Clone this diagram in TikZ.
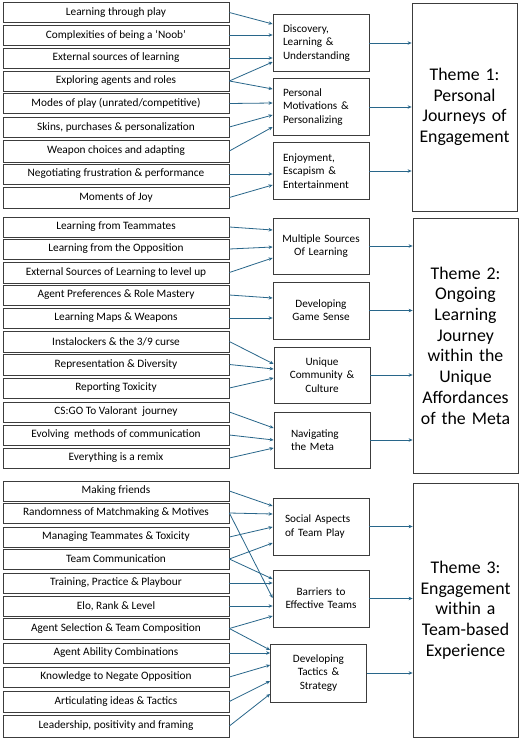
\documentclass[tikz,border=0pt]{standalone}
\usepackage{fontspec}
\setmainfont{Carlito}
\usetikzlibrary{arrows.meta,calc}
\definecolor{conn}{RGB}{40,102,138}
\definecolor{edge}{RGB}{60,60,60}
\tikzset{
  lbox/.style={draw=edge, line width=0.7pt, minimum width=226pt, minimum height=20pt, inner sep=0pt, font=\fontsize{11.3}{12}\selectfont},
  mboxc/.style={draw=edge, line width=0.8pt, minimum width=96pt, minimum height=57pt, inner xsep=4pt, text width=88pt, align=center, font=\fontsize{11.2}{13.2}\selectfont},
  mboxl/.style={draw=edge, line width=0.8pt, minimum width=96pt, minimum height=57pt, inner xsep=10pt, text width=76pt, align=left, font=\fontsize{11.2}{13.2}\selectfont},
  theme/.style={draw=edge, line width=0.8pt, minimum width=105pt, text width=99pt, inner xsep=3pt, align=center, font=\fontsize{17.8}{20.7}\selectfont},
  arr/.style={draw=conn, line width=0.8pt, -{Stealth[length=4pt,width=3.5pt]}}
}
\begin{document}
\begin{tikzpicture}[x=1pt,y=-1pt]
\useasboundingbox[fill=white] (0,0) rectangle (520,741);
% ---------- Section 1 ----------
\node[lbox] (a1) at (116,12.5) {Learning through play};
\node[lbox] (a2) at (116,35) {Complexities of being a ‘Noob’};
\node[lbox] (a3) at (116,58) {External sources of learning};
\node[lbox] (a4) at (116,81) {Exploring agents and roles};
\node[lbox] (a5) at (116,103.5) {Modes of play (unrated/competitive)};
\node[lbox] (a6) at (116,127) {Skins, purchases \& personalization};
\node[lbox, minimum height=22pt] (a7) at (116,151) {Weapon choices and adapting};
\node[lbox] (a8) at (116,174) {Negotiating frustration \& performance};
\node[lbox, minimum height=21pt] (a9) at (116,197.5) {Moments of Joy};

\node[mboxl] (m1) at (321,43) {Discovery,\\Learning \&\\Understanding};
\node[mboxl] (m2) at (321,107) {Personal\\Motivations \&\\Personalizing};
\node[mboxl] (m3) at (321,171) {Enjoyment,\\Escapism \&\\Entertainment};

\node[theme, minimum height=208pt] (t1) at (464.5,107) {Theme 1:\\Personal\\Journeys of\\Engagement};

\draw[arr] (a1.east) -- ($(m1.west)+(0,-19)$);
\draw[arr] (a2.east) -- ($(m1.west)+(0,-8)$);
\draw[arr] (a3.east) -- ($(m1.west)+(0,15)$);
\draw[arr] (a4.east) -- ($(m1.west)+(0,19)$);
\draw[arr] (a4.east) -- ($(m2.west)+(0,-18)$);
\draw[arr] (a5.east) -- ($(m2.west)+(0,-4)$);
\draw[arr] (a6.east) -- ($(m2.west)+(0,8)$);
\draw[arr] (a7.east) -- ($(m2.west)+(0,20)$);
\draw[arr] (a8.east) -- ($(m3.west)+(0,3)$);
\draw[arr] (a9.east) -- ($(m3.west)+(0,14)$);

\draw[arr] (m1.east) -- (m1.east -| t1.west);
\draw[arr] (m2.east) -- (m2.east -| t1.west);
\draw[arr] (m3.east) -- (m3.east -| t1.west);

% ---------- Section 2 ----------
\node[lbox] (b1) at (116,227) {Learning from Teammates};
\node[lbox] (b2) at (116,249) {Learning from the Opposition};
\node[lbox, minimum height=21pt] (b3) at (116,272.5) {External Sources of Learning to level up};
\node[lbox] (b4) at (116,295) {Agent Preferences \& Role Mastery};
\node[lbox] (b5) at (116,318) {Learning Maps \& Weapons};
\node[lbox, minimum height=21pt] (b6) at (116,341.5) {Instalockers \& the 3/9 curse};
\node[lbox, minimum height=21pt] (b7) at (116,364.5) {Representation \& Diversity};
\node[lbox] (b8) at (116,388) {Reporting Toxicity};
\node[lbox] (b9) at (116,412) {CS:GO To Valorant\ \ journey};
\node[lbox] (b10) at (116,435) {Evolving\ \ methods of communication};
\node[lbox] (b11) at (116,458) {Everything is a remix};

\node[mboxc, minimum height=56pt] (n1) at (321,246) {Multiple Sources\\Of Learning};
\node[mboxc] (n2) at (321,310.5) {Developing\\Game Sense};
\node[mboxc, minimum height=56pt] (n3) at (322,375) {Unique\\Community \&\\Culture};
\node[mboxl, minimum height=56pt, inner xsep=17pt, text width=62pt] (n4) at (322,440) {Navigating\\the Meta};

\node[theme, minimum height=255pt] (t2) at (465.5,345.5) {Theme 2:\\Ongoing\\Learning\\Journey\\within the\\Unique\\Affordances\\of the Meta};

\draw[arr] (b1.east) -- ($(n1.west)+(0,-16)$);
\draw[arr] (b2.east) -- ($(n1.west)+(0,1)$);
\draw[arr] (b3.east) -- ($(n1.west)+(0,12)$);
\draw[arr] (b4.east) -- ($(n2.west)+(0,-12.5)$);
\draw[arr] (b5.east) -- ($(n2.west)+(0,7.5)$);
\draw[arr] (b6.east) -- ($(n3.west)+(0,-11)$);
\draw[arr] (b7.east) -- ($(n3.west)+(0,-6)$);
\draw[arr] (b8.east) -- ($(n3.west)+(0,3)$);
\draw[arr] (b9.east) -- ($(n4.west)+(0,-12)$);
\draw[arr] (b10.east) -- ($(n4.west)+(0,0)$);
\draw[arr] (b11.east) -- ($(n4.west)+(0,8)$);

\draw[arr] (n1.east) -- (n1.east -| t2.west);
\draw[arr] (n2.east) -- (n2.east -| t2.west);
\draw[arr] (n3.east) -- (n3.east -| t2.west);
\draw[arr] (n4.east) -- (n4.east -| t2.west);

% ---------- Section 3 ----------
\node[lbox] (c1) at (116,491) {Making friends};
\node[lbox] (c2) at (116,513) {Randomness of Matchmaking \& Motives};
\node[lbox] (c3) at (116,537) {Managing Teammates \& Toxicity};
\node[lbox] (c4) at (116,559) {Team Communication};
\node[lbox] (c5) at (116,583) {Training, Practice \& Playbour};
\node[lbox] (c6) at (116,606) {Elo, Rank \& Level};
\node[lbox, minimum height=21pt] (c7) at (116,628.5) {Agent Selection \& Team Composition};
\node[lbox] (c8) at (116,653) {Agent Ability Combinations};
\node[lbox] (c9) at (116,677) {Knowledge to Negate Opposition};
\node[lbox, minimum height=21pt] (c10) at (116,701.5) {Articulating ideas \& Tactics};
\node[lbox, minimum height=22pt] (c11) at (116,726) {Leadership, positivity and framing};

\node[mboxl, inner xsep=12pt, text width=72pt] (p1) at (321,526.5) {Social Aspects\\of Team Play};
\node[mboxc] (p2) at (321,598.5) {Barriers to\\Effective Teams};
\node[mboxc, minimum height=58pt] (p3) at (318.5,673) {Developing\\Tactics \&\\Strategy};

\node[theme, minimum height=254pt] (t3) at (465.5,610) {Theme 3:\\Engagement\\within a\\Team-based\\Experience};

\draw[arr] (c1.east) -- ($(p1.west)+(0,-20.5)$);
\draw[arr] (c2.east) -- ($(p1.west)+(0,-12.5)$);
\draw[arr] (c3.east) -- ($(p1.west)+(0,0.5)$);
\draw[arr] (c4.east) -- ($(p1.west)+(0,16.5)$);
\draw[arr] (c4.east) -- ($(p2.west)+(0,-19.5)$);
\draw[arr] (c5.east) -- ($(p2.west)+(0,-15.5)$);
\draw[arr] (c2.east) -- ($(p2.west)+(0,-0.5)$);
\draw[arr] (c6.east) -- ($(p2.west)+(0,7.5)$);
\draw[arr] (c7.east) -- ($(p2.west)+(0,17.5)$);
\draw[arr] (c7.east) -- ($(p3.west)+(0,-23)$);
\draw[arr] (c8.east) -- ($(p3.west)+(0,-20)$);
\draw[arr] (c9.east) -- ($(p3.west)+(0,-8)$);
\draw[arr] (c10.east) -- ($(p3.west)+(0,8)$);
\draw[arr] (c11.east) -- ($(p3.west)+(0,21)$);

\draw[arr] (p1.east) -- (p1.east -| t3.west);
\draw[arr] (p2.east) -- (p2.east -| t3.west);
\draw[arr] (p3.east) -- (p3.east -| t3.west);
\end{tikzpicture}
\end{document}
